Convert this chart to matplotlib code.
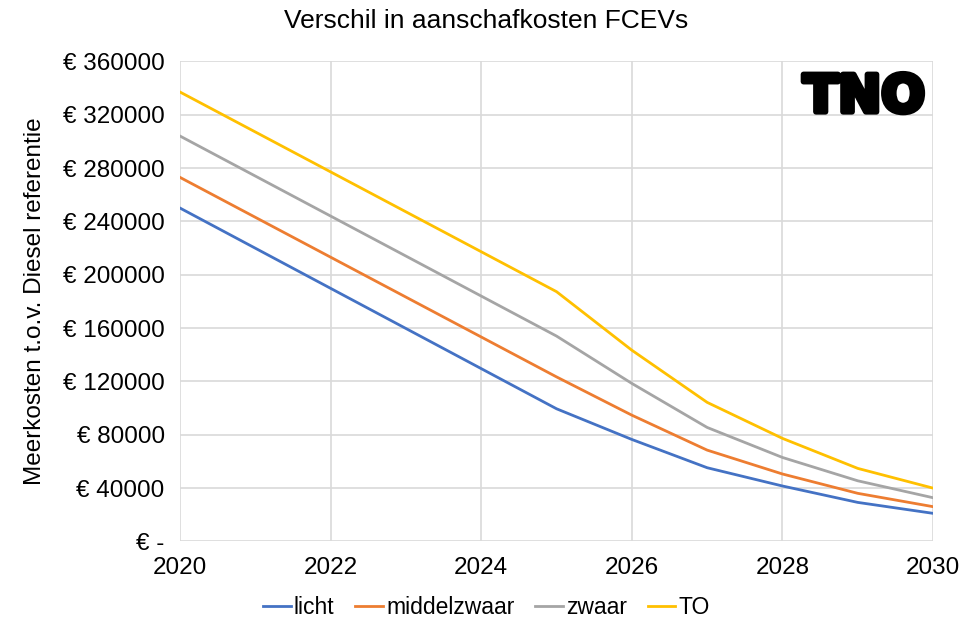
import matplotlib.pyplot as plt
import matplotlib.patheffects as pe
from matplotlib.ticker import FuncFormatter

plt.rcParams['font.family'] = ['Liberation Sans', 'DejaVu Sans']

# data
years = [2020, 2025, 2026, 2027, 2028, 2029, 2030]
licht = [250000, 99500, 76500, 55300, 41600, 29300, 21100]
middelzwaar = [273000, 123400, 94700, 68500, 50600, 36100, 26100]
zwaar = [304000, 154000, 118500, 85500, 63000, 45500, 32800]
to = [337000, 187300, 143400, 104300, 77300, 54800, 40000]

series = [('licht', licht, '#4472C4'),
          ('middelzwaar', middelzwaar, '#ED7D31'),
          ('zwaar', zwaar, '#A5A5A5'),
          ('TO', to, '#FFC000')]

fig = plt.figure(figsize=(9.73, 6.26), dpi=100)
ax = fig.add_axes([0.185, 0.135, 0.774, 0.767])

for name, vals, col in series:
    ax.plot(years, vals, color=col, lw=2, label=name)

ax.set_xlim(2020, 2030)
ax.set_ylim(0, 360000)
ax.set_xticks(range(2020, 2031, 2))
ax.set_yticks(range(0, 360001, 40000))


def euro(v, pos):
    return '€ -' if v == 0 else '€ %d' % v


ax.yaxis.set_major_formatter(FuncFormatter(euro))
ax.grid(True, color='#d9d9d9', lw=1.2)
ax.set_axisbelow(True)
for s in ax.spines.values():
    s.set_visible(False)
ax.tick_params(length=0, labelsize=17.5, colors='black')
ax.tick_params(axis='y', pad=11)
ax.tick_params(axis='x', pad=11)

ax.set_ylabel('Meerkosten t.o.v. Diesel referentie', fontsize=17.5, labelpad=12)
fig.suptitle('Verschil in aanschafkosten FCEVs', fontsize=19, y=0.985)

fig.legend(loc='center', bbox_to_anchor=(0.5, 0.03), ncol=4, frameon=False,
           fontsize=16.5, handlelength=1.2, handletextpad=0.15, columnspacing=0.9)

# TNO logo
ax.text(0.989, 0.924, 'TNO', transform=ax.transAxes, ha='right', va='center',
        fontsize=37, fontweight='bold', family='DejaVu Sans', color='black',
        path_effects=[pe.withStroke(linewidth=4, foreground='black')])

fig.savefig('out.png', dpi=100)
